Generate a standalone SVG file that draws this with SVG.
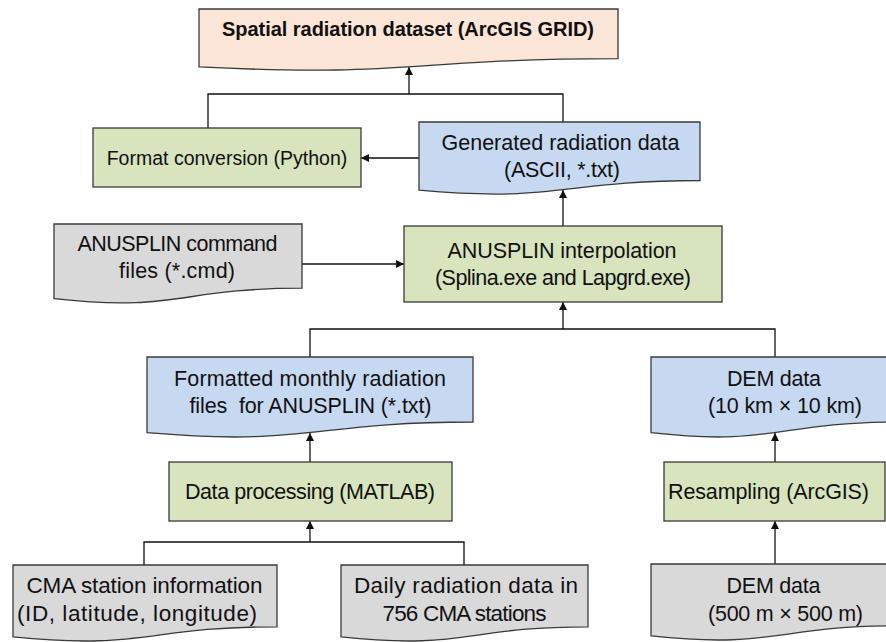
<svg xmlns="http://www.w3.org/2000/svg" width="886" height="642" viewBox="0 0 886 642">
<style>
  .box { stroke: #3a3a3a; stroke-width: 1.3; }
  .orange { fill: #FBE5D6; }
  .green { fill: #D7E4BD; }
  .blue { fill: #C6D9F1; }
  .grey { fill: #D9D9D9; }
  .t { font-family: "Liberation Sans", Arial, sans-serif; font-size: 21.5px; fill: #111; text-anchor: middle; white-space: pre; }
  .b { font-weight: bold; font-size: 20px; }
  .s { font-size: 19.5px; }
  .l { font-size: 22.5px; }
  .conn { fill: none; stroke: #111; stroke-width: 1.3; }
</style>
<defs>
  <marker id="arr" viewBox="0 0 10 10" refX="10" refY="5" markerWidth="8" markerHeight="8" markerUnits="userSpaceOnUse" orient="auto">
    <path d="M0,0 L10,5 L0,10 Z" fill="#111"/>
  </marker>
</defs>
<rect width="886" height="642" fill="#fff"/>

<g id="connectors">
  <path class="conn" d="M208,128 V94 H563 V122"/>
  <path class="conn" d="M409,94 V67" marker-end="url(#arr)"/>
  <path class="conn" d="M419,158 H361" marker-end="url(#arr)"/>
  <path class="conn" d="M563,226 V190" marker-end="url(#arr)"/>
  <path class="conn" d="M302,264 H404" marker-end="url(#arr)"/>
  <path class="conn" d="M310,357 V329 H775 V357"/>
  <path class="conn" d="M563,329 V302" marker-end="url(#arr)"/>
  <path class="conn" d="M310,462 V433" marker-end="url(#arr)"/>
  <path class="conn" d="M775,462 V433" marker-end="url(#arr)"/>
  <path class="conn" d="M144,565 V542 H464 V565"/>
  <path class="conn" d="M310,542 V521" marker-end="url(#arr)"/>
  <path class="conn" d="M775,564 V521" marker-end="url(#arr)"/>
</g>

<g id="spatial-dataset">
  <path class="box orange" d="M199,9 H618 V58.7 C408.5,58.7 408.5,77.7 199,66.9 Z"/>
  <text class="t b" x="408" y="36" textLength="372">Spatial radiation dataset (ArcGIS GRID)</text>
</g>

<g id="format-conversion">
  <rect class="box green" x="93" y="128" width="268" height="59"/>
  <text class="t s" x="227" y="164.5">Format conversion (Python)</text>
</g>

<g id="generated-data">
  <path class="box blue" d="M419,122 H700 V180.5 C559.5,180.5 559.5,202.8 419,190.2 Z"/>
  <text class="t" x="560.5" y="150" textLength="238">Generated radiation data</text>
  <text class="t" x="562" y="177" textLength="116">(ASCII, *.txt)</text>
</g>

<g id="command-files">
  <path class="box grey" d="M54,224 H302 V288.2 C178,288.2 178,312.6 54,298.7 Z"/>
  <text class="t" x="177.5" y="251" textLength="200">ANUSPLIN command</text>
  <text class="t" x="177" y="278" textLength="116">files (*.cmd)</text>
</g>

<g id="anusplin-interpolation">
  <rect class="box green" x="404" y="226" width="318" height="76"/>
  <text class="t" x="562" y="258" textLength="229">ANUSPLIN interpolation</text>
  <text class="t" x="563" y="285" textLength="256">(Splina.exe and Lapgrd.exe)</text>
</g>

<g id="formatted-files">
  <path class="box blue" d="M147,357 H473 V422 C310,422 310,446.7 147,432.7 Z"/>
  <text class="t" x="310" y="386" textLength="272">Formatted monthly radiation</text>
  <text class="t" x="310.5" y="413" textLength="242">files  for ANUSPLIN (*.txt)</text>
</g>

<g id="dem-10km">
  <path class="box blue" d="M651,357 H899 V422 C775,422 775,446.7 651,432.7 Z"/>
  <text class="t" x="774" y="386" textLength="94">DEM data</text>
  <text class="t" x="785" y="413" textLength="154">(10 km × 10 km)</text>
</g>

<g id="data-processing">
  <rect class="box green" x="169" y="462" width="283" height="59"/>
  <text class="t" x="310" y="499" textLength="250">Data processing (MATLAB)</text>
</g>

<g id="resampling">
  <rect class="box green" x="664" y="462" width="221" height="59"/>
  <text class="t" x="768.5" y="499" textLength="201">Resampling (ArcGIS)</text>
</g>

<g id="cma-station">
  <path class="box grey" d="M13,565 H277 V626.8 C145,626.8 145,650.3 13,636.9 Z"/>
  <text class="t l" x="144.5" y="593" textLength="236">CMA station information</text>
  <text class="t l" x="137" y="621" textLength="240">(ID, latitude, longitude)</text>
</g>

<g id="daily-radiation">
  <path class="box grey" d="M341,565 H588 V626.8 C464.5,626.8 464.5,650.3 341,636.9 Z"/>
  <text class="t l" x="466" y="593" textLength="224">Daily radiation data in</text>
  <text class="t l" x="464.5" y="621" textLength="164">756 CMA stations</text>
</g>

<g id="dem-500m">
  <path class="box grey" d="M651,564 H899 V625.8 C775,625.8 775,649.3 651,635.9 Z"/>
  <text class="t" x="773.5" y="593" textLength="94">DEM data</text>
  <text class="t" x="785.5" y="621" textLength="155">(500 m × 500 m)</text>
</g>
</svg>
